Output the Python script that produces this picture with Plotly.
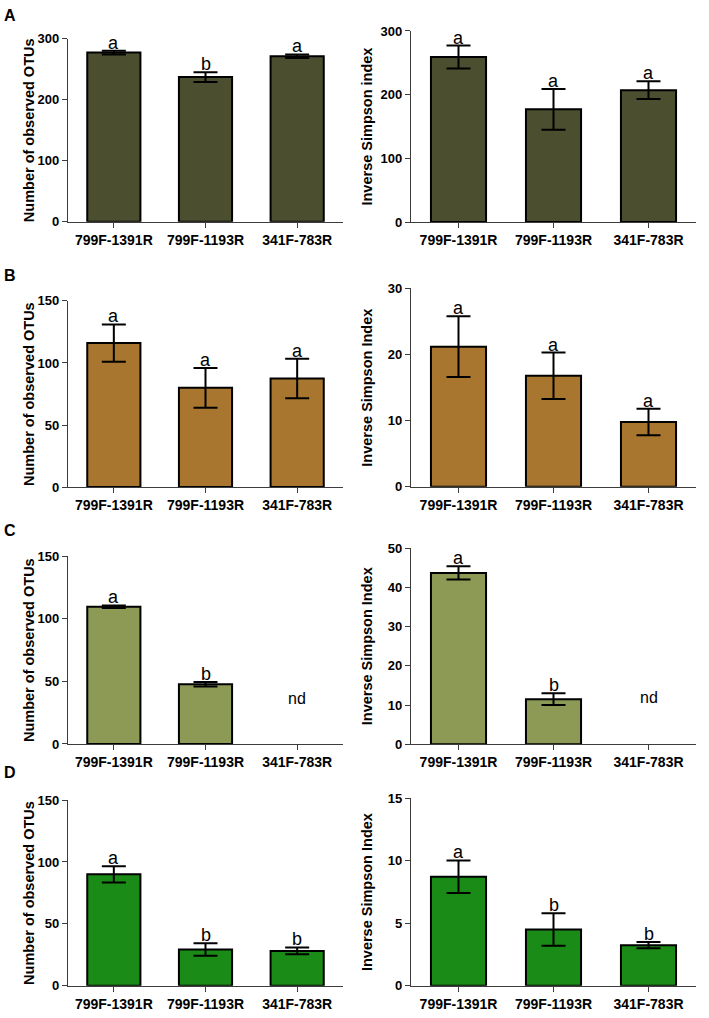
import plotly.graph_objects as go

W, H = 709, 1018

categories = ["799F-1391R", "799F-1193R", "341F-783R"]

# Panel A
A_otu = [277, 237, 271]
A_otu_err = [3, 8, 3]
A_otu_sig = ["a", "b", "a"]
A_inv = [259, 177, 207]
A_inv_err = [18, 32, 14]
A_inv_sig = ["a", "a", "a"]
# Panel B
B_otu = [116, 80, 87.5]
B_otu_err = [15, 16, 16]
B_otu_sig = ["a", "a", "a"]
B_inv = [21.2, 16.8, 9.8]
B_inv_err = [4.6, 3.5, 2.0]
B_inv_sig = ["a", "a", "a"]
# Panel C (third primer pair not detected)
C_otu = [109.6, 47.7, None]
C_otu_err = [1.0, 1.8, None]
C_otu_sig = ["a", "b", "nd"]
C_inv = [43.7, 11.5, None]
C_inv_err = [1.7, 1.5, None]
C_inv_sig = ["a", "b", "nd"]
# Panel D
D_otu = [90, 29.2, 28.1]
D_otu_err = [6.5, 5.0, 2.8]
D_otu_sig = ["a", "b", "b"]
D_inv = [8.73, 4.5, 3.24]
D_inv_err = [1.3, 1.3, 0.25]
D_inv_sig = ["a", "b", "b"]

colors = {"A": "#4b4e2f", "B": "#a8762e", "C": "#8c9a55", "D": "#1b8b17"}

FONT = "Liberation Sans, Arial, Helvetica, sans-serif"

panels = [
    ("A", 0, A_otu, A_otu_err, A_otu_sig, 300, 100, 32, 218, "Number of observed OTUs"),
    ("A", 1, A_inv, A_inv_err, A_inv_sig, 300, 100, 24.3, 218.3, "Inverse Simpson index"),
    ("B", 0, B_otu, B_otu_err, B_otu_sig, 150, 50, 298.3, 487.3, "Number of observed OTUs"),
    ("B", 1, B_inv, B_inv_err, B_inv_sig, 30, 10, 285.7, 487, "Inverse Simpson Index"),
    ("C", 0, C_otu, C_otu_err, C_otu_sig, 150, 50, 557.3, 748, "Number of observed OTUs"),
    ("C", 1, C_inv, C_inv_err, C_inv_sig, 50, 10, 549.3, 748.3, "Inverse Simpson Index"),
    ("D", 0, D_otu, D_otu_err, D_otu_sig, 150, 50, 805, 993.3, "Number of observed OTUs"),
    ("D", 1, D_inv, D_inv_err, D_inv_sig, 15, 5, 803.3, 993.3, "Inverse Simpson Index"),
]

xdom = {0: (68, 343), 1: (411, 696)}
ytitle_x = {0: 29, 1: 367}

fig = go.Figure()
layout = {}
annotations = []
AXCOL = "#3c3c3c"

for i, (letter, side, vals, errs, sig, ymax, dtick, top, bot, ytitle) in enumerate(panels):
    n = i + 1
    xa = "x" if n == 1 else f"x{n}"
    ya = "y" if n == 1 else f"y{n}"
    xkey = "xaxis" if n == 1 else f"xaxis{n}"
    ykey = "yaxis" if n == 1 else f"yaxis{n}"
    fig.add_trace(go.Bar(
        x=list(range(len(categories))), y=vals,
        width=0.58,
        marker=dict(color=colors[letter], line=dict(color="black", width=2)),
        error_y=dict(type="data", array=[e if e is not None else 0 for e in errs],
                     visible=True, color="black", thickness=2, width=12),
        xaxis=xa, yaxis=ya, showlegend=False, hoverinfo="skip",
    ))
    d0, d1 = xdom[side]
    layout[xkey] = dict(
        domain=[d0 / W, d1 / W], range=[-0.5, 2.5], anchor=ya,
        tickmode="array", tickvals=list(range(len(categories))), ticktext=categories,
        ticks="outside", ticklen=5, tickwidth=1.3, tickcolor=AXCOL,
        showline=True, linecolor=AXCOL, linewidth=1.3, showgrid=False, zeroline=False,
        tickfont=dict(family=FONT, size=14, color="black", weight="bold"),
        fixedrange=True,
    )
    layout[ykey] = dict(
        domain=[1 - bot / H, 1 - top / H], range=[0, ymax], anchor=xa,
        tickmode="linear", tick0=0, dtick=dtick,
        ticks="outside", ticklen=5, tickwidth=1.3, tickcolor=AXCOL,
        showline=True, linecolor=AXCOL, linewidth=1.3, showgrid=False, zeroline=False,
        tickfont=dict(family=FONT, size=13, color="black", weight="bold"),
        fixedrange=True,
    )
    for j, s in enumerate(sig):
        if vals[j] is None:
            annotations.append(dict(
                x=j, y=ymax * 0.24, xref=xa, yref=ya, text=s, showarrow=False,
                xanchor="center", yanchor="middle",
                font=dict(family=FONT, size=16, color="black")))
        else:
            annotations.append(dict(
                x=j, y=vals[j] + errs[j], xref=xa, yref=ya, text=s, showarrow=False,
                xanchor="center", yanchor="bottom", yshift=-4,
                font=dict(family=FONT, size=18, color="black")))
    annotations.append(dict(
        x=ytitle_x[side] / W, y=1 - (top + bot) / 2 / H, xref="paper", yref="paper",
        text=ytitle, textangle=-90, showarrow=False, xanchor="center", yanchor="middle",
        font=dict(family=FONT, size=14.5, color="black", weight="bold")))

for letter, cy in [("A", 9), ("B", 273), ("C", 531), ("D", 777)]:
    annotations.append(dict(
        x=2 / W, y=1 - cy / H, xref="paper", yref="paper", text=letter, showarrow=False,
        xanchor="left", yanchor="middle",
        font=dict(family=FONT, size=16, color="black", weight="bold")))

fig.update_layout(
    width=W, height=H,
    margin=dict(l=0, r=0, t=0, b=0),
    paper_bgcolor="white", plot_bgcolor="white",
    annotations=annotations,
    **layout,
)

fig.write_html("out.html", config={"displayModeBar": False},
               post_script="document.body.style.margin='0';document.body.style.overflow='hidden';")
